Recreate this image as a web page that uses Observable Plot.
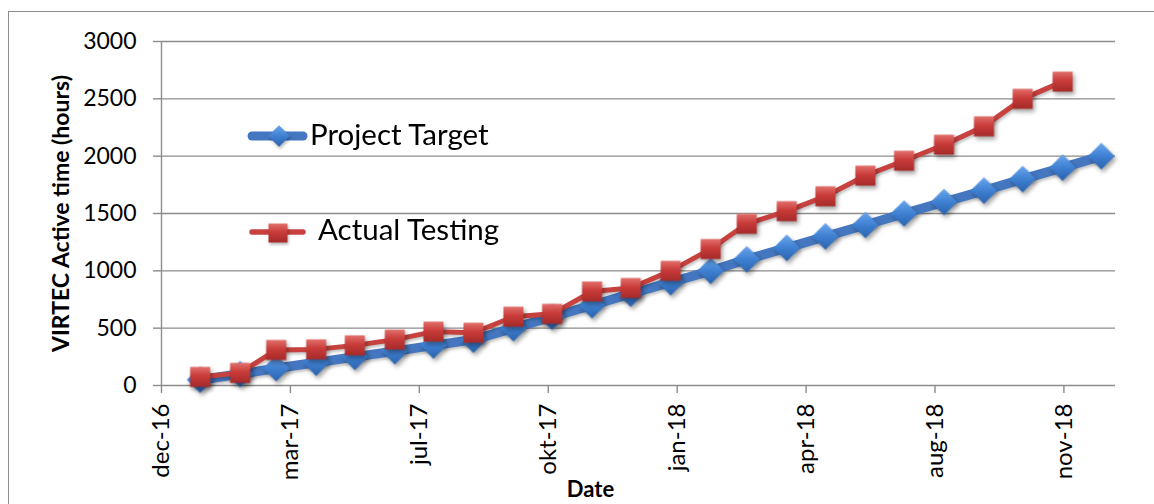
<!DOCTYPE html>
<html>
<head>
<meta charset="utf-8">
<script src="https://cdn.jsdelivr.net/npm/d3@7"></script>
<script src="https://cdn.jsdelivr.net/npm/@observablehq/plot@0.6"></script>
<style>
  html, body { margin: 0; padding: 0; background: #fff; }
  #wrap { position: relative; width: 1154px; height: 504px; overflow: hidden; font-family: Lato, "Open Sans", sans-serif; }
  #frame { position: absolute; left: 8px; top: 11px; width: 1200px; height: 600px; border-left: 1.5px solid #8c8c8c; border-top: 1.5px solid #8c8c8c; }
  #chart { position: absolute; left: 0; top: 0; }
  #legend { position: absolute; left: 0; top: 0; pointer-events: none; }
</style>
</head>
<body>
<div id="wrap">
  <div id="frame"></div>
  <div id="chart"></div>
  <svg id="legend" width="1154" height="504"></svg>
</div>
<script>
// ---- data ----
const months = [
  "2017-01-14","2017-02-14","2017-03-14","2017-04-14","2017-05-14","2017-06-14",
  "2017-07-14","2017-08-14","2017-09-14","2017-10-14","2017-11-14","2017-12-14",
  "2018-01-14","2018-02-14","2018-03-14","2018-04-14","2018-05-14","2018-06-14",
  "2018-07-14","2018-08-14","2018-09-14","2018-10-14","2018-11-14","2018-12-14"
];
const projectTarget = [50,100,150,200,250,300,350,400,500,600,700,800,900,1000,1100,1200,1300,1400,1500,1600,1700,1800,1900,2000];
const actualTesting = [75,110,310,315,350,400,470,460,600,625,820,850,1000,1190,1410,1520,1650,1830,1960,2100,2260,2500,2650];
const tickDates = ["2016-12-15","2017-03-25","2017-07-03","2017-10-11","2018-01-19","2018-04-29","2018-08-07","2018-11-15"];
const tickLabels = ["dec-16","mar-17","jul-17","okt-17","jan-18","apr-18","aug-18","nov-18"];
const yTicks = [0,500,1000,1500,2000,2500,3000];
const xDomain = ["2016-12-15","2018-12-25"];
const seriesNames = ["Project Target","Actual Testing"];

// ---- build ----
const parse = d3.utcParse("%Y-%m-%d");
const tgt = projectTarget.map((v, i) => ({date: parse(months[i]), value: v}));
const act = actualTesting.map((v, i) => ({date: parse(months[i]), value: v}));
const ticks = tickDates.map(parse);
const labelOf = new Map(ticks.map((t, i) => [+t, tickLabels[i]]));
const grid = "#8c8c8c";
const font = "Lato, 'Open Sans', sans-serif";

const chart = Plot.plot({
  width: 1154, height: 504,
  marginLeft: 161, marginRight: 39, marginTop: 41, marginBottom: 119,
  style: {fontFamily: font, fontSize: "23px", color: "#000", background: "transparent", overflow: "visible"},
  x: {type: "utc", domain: xDomain.map(parse)},
  y: {domain: [0, 3000]},
  marks: [
    Plot.ruleY(yTicks, {stroke: grid, strokeWidth: 1.4}),
    Plot.ruleX([parse(xDomain[0])], {stroke: grid, strokeWidth: 1.4}),
    Plot.axisY({ticks: yTicks, tickSize: 8, tickPadding: 17, tickFormat: d3.format("d"), stroke: grid, strokeWidth: 1.4, label: null, fill: "#000"}),
    Plot.axisX({ticks: ticks, tickSize: 8, tickPadding: 10, tickRotate: -90, tickFormat: d => labelOf.get(+d), stroke: grid, strokeWidth: 1.4, label: null, fill: "#000", fontSize: 24}),
    Plot.text(["VIRTEC Active time (hours)"], {frameAnchor: "left", textAnchor: "middle", lineAnchor: "middle", rotate: -90, dx: -100, fontWeight: "bold", fontSize: 23, fill: "#000"}),
    Plot.text(["Date"], {frameAnchor: "bottom", textAnchor: "middle", lineAnchor: "middle", dx: -48, dy: 104, fontWeight: "bold", fontSize: 22, fill: "#000"}),
    Plot.line(tgt, {x: "date", y: "value", stroke: "#4477bf", strokeWidth: 9.5}),
    Plot.dot(tgt, {x: "date", y: "value", symbol: "diamond2", r: 12, fill: "url(#gBlue)", stroke: "none"}),
    Plot.line(act, {x: "date", y: "value", stroke: "#c7423f", strokeWidth: 5}),
    Plot.dot(act, {x: "date", y: "value", symbol: "square", r: 11.3, fill: "url(#gRed)", stroke: "none"})
  ]
});

chart.insertAdjacentHTML("afterbegin", `
<defs>
  <linearGradient id="gBlue" x1="0" y1="0" x2="0" y2="1">
    <stop offset="0" stop-color="#6aa6ec"/>
    <stop offset="0.5" stop-color="#3f80d2"/>
    <stop offset="1" stop-color="#2a62ad"/>
  </linearGradient>
  <linearGradient id="gRed" x1="0" y1="0" x2="0" y2="1">
    <stop offset="0" stop-color="#e2706c"/>
    <stop offset="0.45" stop-color="#c93c3a"/>
    <stop offset="1" stop-color="#a52a29"/>
  </linearGradient>
</defs>`);
d3.select(chart).selectAll("g[aria-label='dot']").style("filter", "drop-shadow(2px 3px 2px rgba(0,0,0,0.35))");
d3.select(chart).selectAll("g[aria-label='line']").style("filter", "drop-shadow(1px 2px 1.5px rgba(0,0,0,0.25))");
document.getElementById("chart").appendChild(chart);

// ---- legend (inside the plot area, as in the original) ----
const lg = d3.select("#legend");
lg.append("line").attr("x1", 252).attr("x2", 303).attr("y1", 136).attr("y2", 136)
  .attr("stroke", "#4477bf").attr("stroke-width", 9).attr("stroke-linecap", "round");
lg.append("path").attr("d", d3.symbol(d3.symbolDiamond2, 300)()).attr("transform", "translate(279,136)")
  .attr("fill", "url(#gBlue)").style("filter", "drop-shadow(1px 2px 1.5px rgba(0,0,0,0.3))");
lg.append("text").attr("x", 310).attr("y", 145).attr("font-size", 29.5).attr("fill", "#000")
  .attr("font-family", font).text(seriesNames[0]);
lg.append("line").attr("x1", 252).attr("x2", 303).attr("y1", 232).attr("y2", 232)
  .attr("stroke", "#c7423f").attr("stroke-width", 5.5).attr("stroke-linecap", "round");
lg.append("path").attr("d", d3.symbol(d3.symbolSquare, 360)()).attr("transform", "translate(278,233)")
  .attr("fill", "url(#gRed)").style("filter", "drop-shadow(1px 2px 1.5px rgba(0,0,0,0.3))");
lg.append("text").attr("x", 318).attr("y", 240).attr("font-size", 29.5).attr("fill", "#000")
  .attr("font-family", font).text(seriesNames[1]);
</script>
</body>
</html>
